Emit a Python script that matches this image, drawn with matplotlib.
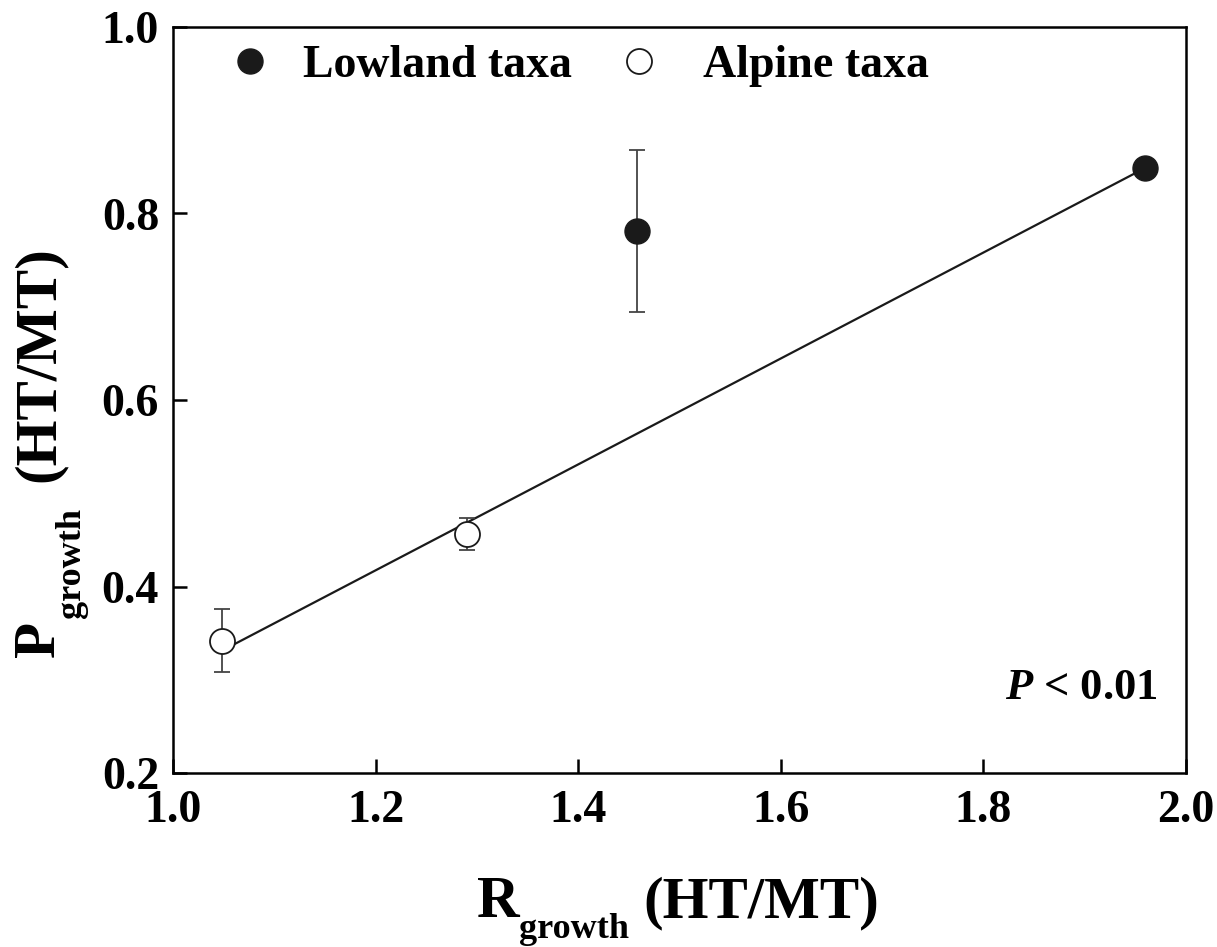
import matplotlib
matplotlib.use("Agg")
import matplotlib.pyplot as plt
from matplotlib.lines import Line2D

plt.rcParams['font.family'] = ['Liberation Serif', 'DejaVu Serif']
plt.rcParams['font.weight'] = 'bold'
plt.rcParams['mathtext.fontset'] = 'custom'
plt.rcParams['mathtext.rm'] = 'Liberation Serif:bold'
plt.rcParams['mathtext.it'] = 'Liberation Serif:bold:italic'
plt.rcParams['mathtext.bf'] = 'Liberation Serif:bold'

lowland_x = [1.458, 1.96]
lowland_y = [0.781, 0.849]
lowland_err = [0.087, 0.0]
alpine_x = [1.048, 1.29]
alpine_y = [0.342, 0.456]
alpine_err = [0.034, 0.017]
fit_x = [1.048, 1.96]
fit_y = [0.331, 0.849]

xticks = [1.0, 1.2, 1.4, 1.6, 1.8, 2.0]
yticks = [0.2, 0.4, 0.6, 0.8, 1.0]
legend_labels = ['Lowland taxa', 'Alpine taxa']

W, H = 1217, 947
fig = plt.figure(figsize=(W / 100, H / 100), dpi=100)
ax = fig.add_axes([173 / W, 1 - 773 / H, (1186 - 173) / W, (773 - 27) / H])

ink = '#1a1a1a'
ax.plot(fit_x, fit_y, color=ink, lw=1.6, zorder=2)
ax.errorbar(alpine_x, alpine_y, yerr=alpine_err, fmt='o', ms=18, mfc='white',
            mec=ink, mew=1.3, ecolor='#444444', elinewidth=1.3, capsize=5.8,
            capthick=1.3, zorder=3)
ax.errorbar(lowland_x, lowland_y, yerr=lowland_err, fmt='o', ms=18, mfc=ink,
            mec=ink, ecolor='#444444', elinewidth=1.3, capsize=5.8,
            capthick=1.3, zorder=3)

ax.set_xlim(1.0, 2.0)
ax.set_ylim(0.2, 1.0)
ax.set_xticks(xticks)
ax.set_yticks(yticks)
ax.set_xticklabels([f"{v:.1f}" for v in xticks])
ax.set_yticklabels([f"{v:.1f}" for v in yticks])
ax.tick_params(direction='in', length=10, width=1.8, labelsize=33)
ax.tick_params(axis='x', pad=12)
ax.tick_params(axis='y', pad=10)
for s in ax.spines.values():
    s.set_linewidth(1.8)

# legend (two single-entry legends for exact placement)
fs_leg = 33
em = fs_leg * 100 / 72
h_low = Line2D([], [], ls='none', marker='o', ms=18, mfc=ink, mec=ink)
h_alp = Line2D([], [], ls='none', marker='o', ms=18, mfc='white', mec=ink, mew=1.3)
leg_specs = [(h_low, legend_labels[0], 237, 303), (h_alp, legend_labels[1], 626, 703)]
legs = []
for hnd, lab, hx, tx in leg_specs:
    hl = 25 / em
    lg = ax.legend([hnd], [lab], loc='center left', frameon=False, fontsize=fs_leg,
                   handlelength=hl, handletextpad=(tx - hx - 25) / em,
                   borderpad=0.0, borderaxespad=0.0,
                   bbox_to_anchor=((hx - 173) / 1013, (773 - 66) / 746))
    legs.append(lg)
for lg in legs[:-1]:
    ax.add_artist(lg)

ax.text((1157 - 173) / 1013, (773 - 688) / 746, r'$\mathit{P}$ < 0.01',
        transform=ax.transAxes, ha='right', va='center', fontsize=32, fontweight='bold')

# axis labels with dropped subscripts
fs_main, fs_sub = 42.5, 26
def ftxt(x, y, s, fs, rot=0):
    fig.text(x / W, 1 - y / H, s, fontsize=fs, fontweight='bold', ha='left',
             va='baseline', rotation=rot, rotation_mode='anchor')

ftxt(477, 917, 'R', fs_main)
ftxt(519, 938, 'growth', fs_sub)
ftxt(643, 917, '(HT/MT)', fs_main)

ftxt(54, 657, 'P', fs_main, 90)
ftxt(80, 618, 'growth', fs_sub, 90)
ftxt(54, 482, '(HT/MT)', fs_main, 90)

fig.savefig('out.png', dpi=100)
